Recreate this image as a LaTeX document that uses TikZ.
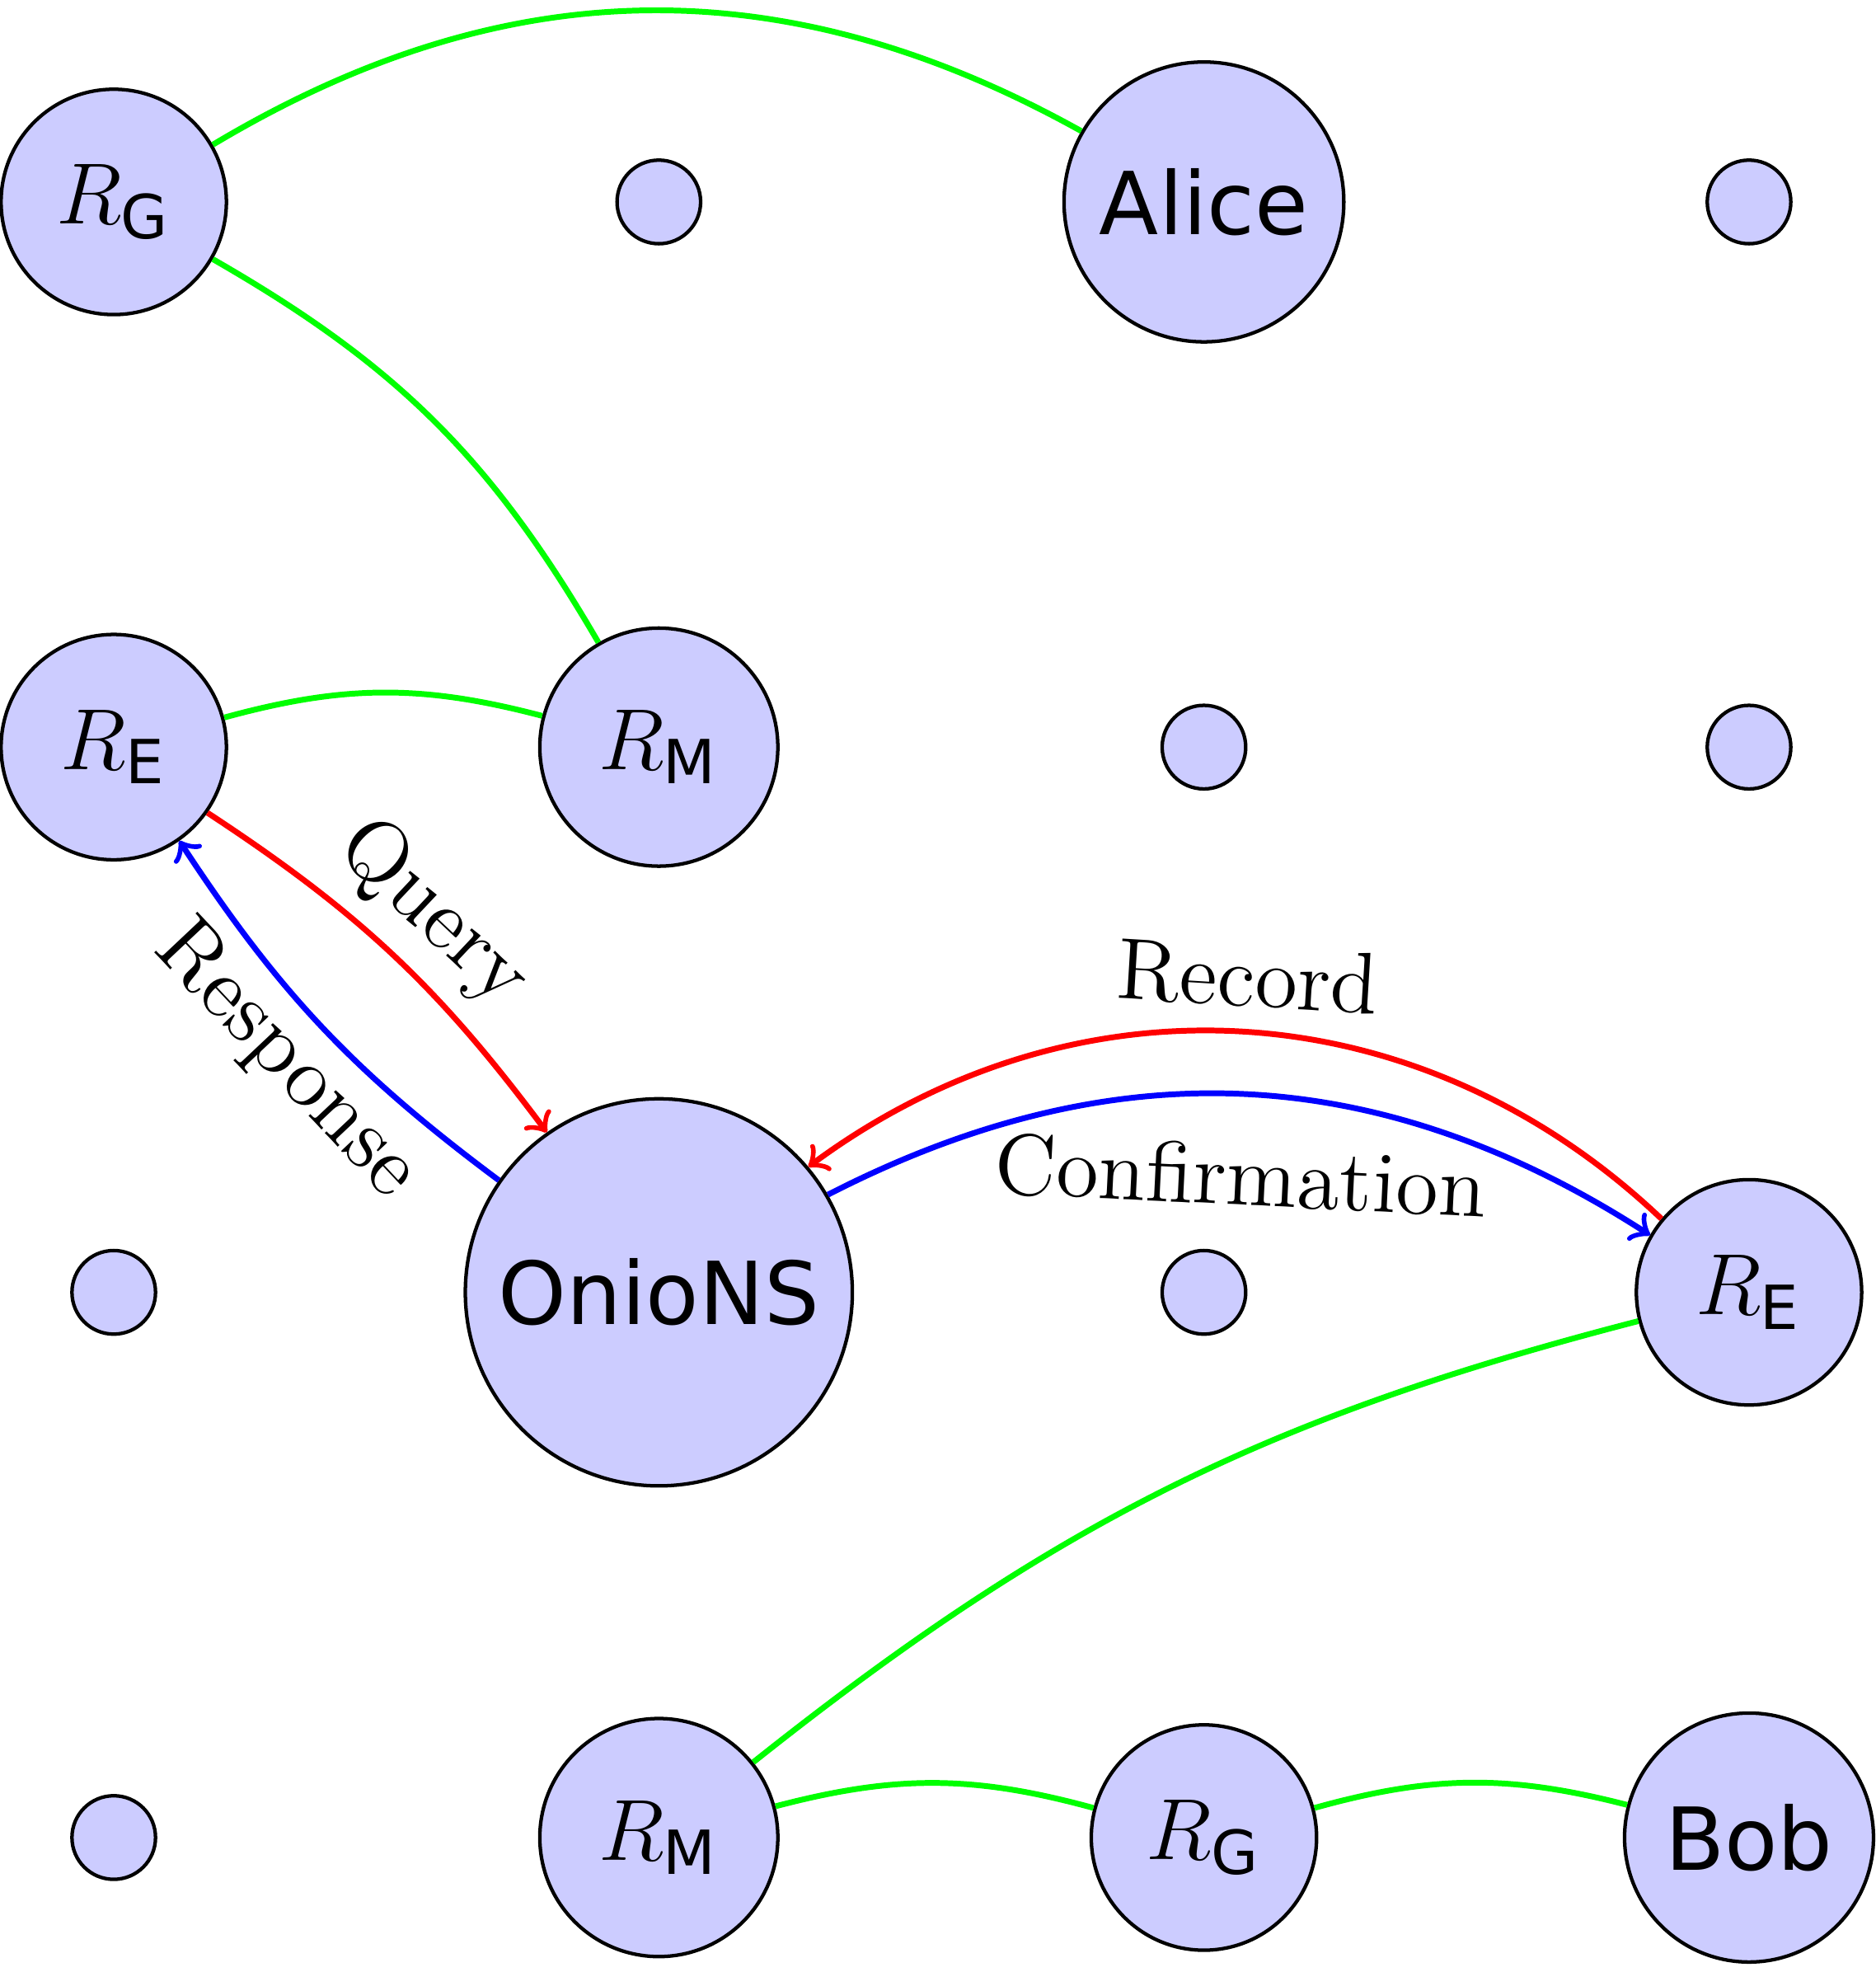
\documentclass[tikz,border=0pt]{standalone}
\usepackage{fix-cm}
\usepackage{amstext}
\usepackage{fontspec}
\setsansfont{DejaVu Sans}
\newcommand{\lblsize}{\fontsize{13.6}{16}\selectfont}
\tikzset{
  vert/.style={circle, draw=black, line width=0.55pt, fill=blue!20, inner sep=0pt,
               font=\lblsize\sffamily},
  small/.style={vert, minimum size=0.46cm},
  relay/.style={vert, minimum size=1.24cm},
  mid/.style={vert, minimum size=1.31cm},
  link/.style={draw=green, line width=0.9pt},
  req/.style={draw=red, line width=0.9pt, ->},
  ans/.style={draw=blue, line width=0.9pt, ->},
  lbl/.style={font=\lblsize, sloped}
}
\begin{document}
\begin{tikzpicture}
\useasboundingbox (-0.626,1.111) rectangle (9.695,-9.740);
% row 0
\node[relay] (rg1) at (0,0) {$R_\textsf{G}$};
\node[small] (d01) at (3,0) {};
\node[vert, minimum size=1.54cm] (alice) at (6,0) {Alice};
\node[small] (d03) at (9,0) {};
% row 1
\node[relay] (re1) at (0,-3) {$R_\textsf{E}$};
\node[mid] (rm1) at (3,-3) {$R_\textsf{M}$};
\node[small] (d12) at (6,-3) {};
\node[small] (d13) at (9,-3) {};
% row 2
\node[small] (d20) at (0,-6) {};
\node[vert, minimum size=2.13cm] (onions) at (3,-6) {OnioNS};
\node[small] (d22) at (6,-6) {};
\node[relay] (re2) at (9,-6) {$R_\textsf{E}$};
% row 3
\node[small] (d30) at (0,-9) {};
\node[mid] (rm2) at (3,-9) {$R_\textsf{M}$};
\node[relay] (rg2) at (6,-9) {$R_\textsf{G}$};
\node[vert, minimum size=1.37cm] (bob) at (9,-9) {Bob};
% circuits
\draw[link] (rg1) to[bend left=30] (alice);
\draw[link] (rg1) to[bend left=15] (rm1);
\draw[link] (re1) to[bend left=15] (rm1);
\draw[link] (re2) to[bend right=12] (rm2);
\draw[link] (rm2) to[bend left=15] (rg2);
\draw[link] (rg2) to[bend left=15] (bob);
% messages
\draw[req] (re1) to[bend left=10] node[lbl, above=-1pt] {Query} (onions);
\draw[ans] (onions) to[bend left=10] node[lbl, below=-2pt, pos=0.5] {Response} (re1);
\draw[req] (re2) to[bend right=40] node[lbl, above] {Record} (onions);
\draw[ans] (onions) to[bend left=30] node[lbl, below=4pt, pos=0.5] {Confirmation} (re2);
\end{tikzpicture}
\end{document}
